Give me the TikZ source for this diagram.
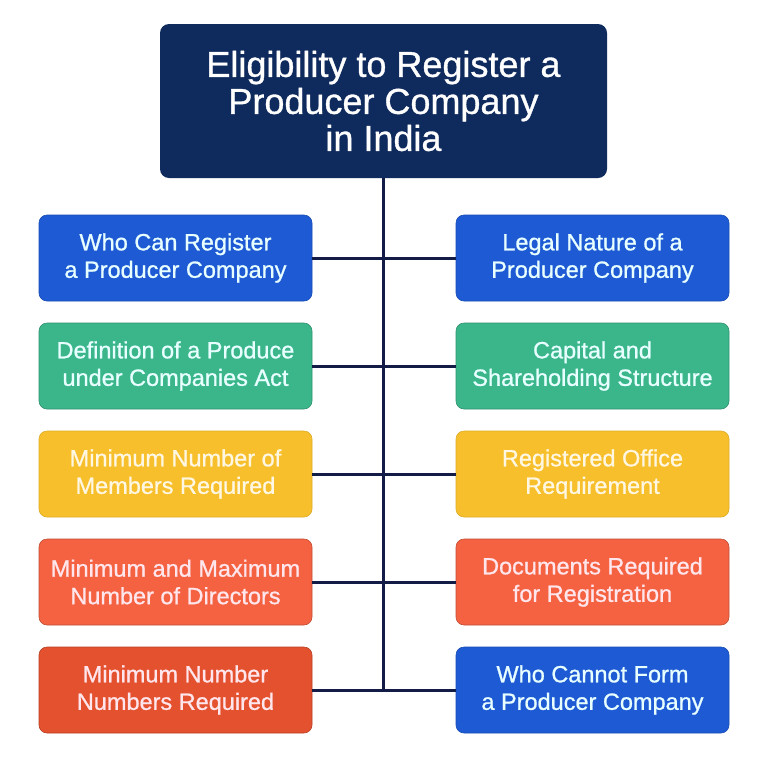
\documentclass[tikz,border=0pt]{standalone}
\usepackage{fontspec}
\setmainfont{Liberation Sans}[FakeBold=0.9]
\usepackage{xcolor}
\usepackage{tikz}
\usetikzlibrary{positioning}

\definecolor{navy}{HTML}{0F2A5C}
\definecolor{linenavy}{HTML}{131C47}
\definecolor{tileblue}{HTML}{1E5AD4}
\definecolor{tilegreen}{HTML}{3BB68B}
\definecolor{tileyellow}{HTML}{F6BF2B}
\definecolor{tileorange}{HTML}{F46242}
\definecolor{tilered}{HTML}{E4512F}
\definecolor{txtcyan}{HTML}{E8FFFF}
\definecolor{txtcream}{HTML}{FFF7E2}
\definecolor{txtpink}{HTML}{FFE6EC}

\begin{document}
\begin{tikzpicture}[
    x=1pt, y=1pt,
    tile/.style={rounded corners=8pt, minimum width=273pt, minimum height=86pt,
        inner sep=0pt, align=center, font=\fontsize{23.5}{27.5}\selectfont,
        line width=0.6pt},
    bluetile/.style={tile, fill=tileblue, draw=tileblue!85!black, text=txtcyan},
    greentile/.style={tile, fill=tilegreen, draw=tilegreen!80!black, text=txtcyan},
    yellowtile/.style={tile, fill=tileyellow, draw=tileyellow!90!black, text=txtcream},
    orangetile/.style={tile, fill=tileorange, draw=tileorange!80!black, text=txtpink},
    redtile/.style={tile, fill=tilered, draw=tilered!80!black, text=txtpink},
    link/.style={line width=3pt, draw=linenavy}
]
    \useasboundingbox[fill=white] (0,0) rectangle (768,-782);

    % 标题框
    \node[rounded corners=9pt, fill=navy, text=white, minimum width=447pt,
        minimum height=154pt, align=center,
        font=\fontsize{36}{37}\selectfont] (title) at (383.5,-101)
        {Eligibility to Register a\\Producer Company\\in India};

    % 左列
    \node[bluetile]   (L1) at (175.5,-258) {Who Can Register\\a Producer Company};
    \node[greentile]  (L2) at (175.5,-366) {Definition of a Produce\\under Companies Act};
    \node[yellowtile] (L3) at (175.5,-474) {Minimum Number of\\Members Required};
    \node[orangetile] (L4) at (175.5,-582) {Minimum and Maximum\\Number of Directors};
    \node[redtile]    (L5) at (175.5,-690) {Minimum Number\\Numbers Required};

    % 右列
    \node[bluetile]   (R1) at (592.5,-258) {Legal Nature of a\\Producer Company};
    \node[greentile]  (R2) at (592.5,-366) {Capital and\\Shareholding Structure};
    \node[yellowtile] (R3) at (592.5,-474) {Registered Office\\Requirement};
    \node[orangetile] (R4) at (592.5,-582) {Documents Required\\for Registration};
    \node[bluetile]   (R5) at (592.5,-690) {Who Cannot Form\\a Producer Company};

    % 连接线
    \coordinate (spine) at (title.south |- L5.east);
    \draw[link] (title.south) -- (spine);
    \draw[link] (L1.east) -- (R1.west);
    \draw[link] (L2.east) -- (R2.west);
    \draw[link] (L3.east) -- (R3.west);
    \draw[link] (L4.east) -- (R4.west);
    \draw[link] (L5.east) -- (R5.west);
\end{tikzpicture}
\end{document}
